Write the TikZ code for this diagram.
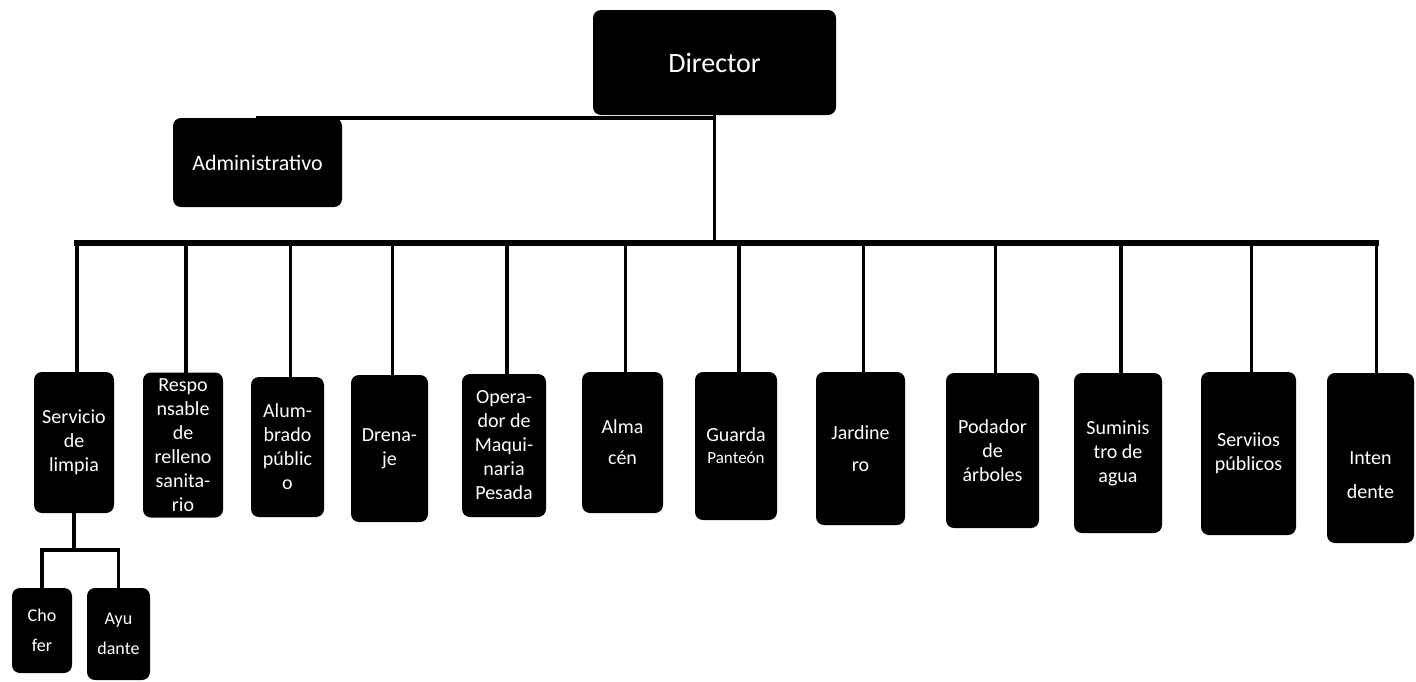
\documentclass[tikz,border=0pt]{standalone}
\usepackage{fontspec}
\setmainfont{Carlito}
\begin{document}
\begin{tikzpicture}[x=1pt,y=-1pt,
  orgbox/.style={fill=black, rounded corners=8pt, text=white, align=center,
    inner sep=0pt, font=\fontsize{20}{24}\selectfont},
  boxtext/.style={text=white, align=center, inner sep=0pt, font=\fontsize{20}{24}\selectfont},
  link/.style={line width=3.4pt, black, line cap=rect},
  busline/.style={line width=5.5pt, black, line cap=rect}]
\useasboundingbox (0,0) rectangle (1416,681);

% top level
\node[orgbox, minimum width=243pt, minimum height=105pt, font=\fontsize{28}{32}\selectfont] (dir) at (714.5,62.5) {Director};
\node[orgbox, minimum width=169pt, minimum height=89pt, font=\fontsize{22}{26}\selectfont] (adm) at (257.5,162.5) {Administrativo};

% second level
\node[orgbox, minimum width=80pt, minimum height=141pt] (serv) at (74,442.5) {Servicio\\de\\limpia};
\node[orgbox, minimum width=80pt, minimum height=145pt] (resp) at (183,445) {Respo\\nsable\\de\\relleno\\sanita-\\rio};
\node[orgbox, minimum width=73pt, minimum height=140pt] (alum) at (287.5,447) {Alum-\\brado\\públic\\o};
\node[orgbox, minimum width=77pt, minimum height=147pt] (dren) at (389.5,448.5) {Drena-\\je};
\node[orgbox, minimum width=84pt, minimum height=143pt] (oper) at (504,445.5) {Opera-\\dor de\\Maqui-\\naria\\Pesada};
\node[orgbox, minimum width=81pt, minimum height=141pt] (alma) at (622.5,442.5) {Alma\\[7pt]cén};
\node[orgbox, minimum width=82pt, minimum height=148pt] (guar) at (736,446) {Guarda\\[-2pt]{\fontsize{17}{20}\selectfont Panteón}};
\node[orgbox, minimum width=89pt, minimum height=153pt] (jard) at (860.5,448.5) {Jardine\\[8pt]ro};
\node[orgbox, minimum width=93pt, minimum height=155pt] (poda) at (992.5,450.5) {Podador\\de\\árboles};
\node[orgbox, minimum width=88pt, minimum height=160pt] (sumi) at (1118,453) {Suminis\\tro de\\agua};
\node[orgbox, minimum width=95pt, minimum height=163pt] (serp) at (1248.5,453.5) {Serviios\\públicos};
\node[orgbox, minimum width=87pt, minimum height=170pt] (inte) at (1370.5,458) {};
\node[boxtext] (intet) at ([yshift=-17pt]inte.center) {Inten\\[10pt]dente};

% third level
\node[orgbox, minimum width=60pt, minimum height=85pt, font=\fontsize{18}{22}\selectfont] (chof) at (42,630.5) {Cho\\[8pt]fer};
\node[orgbox, minimum width=63pt, minimum height=92pt, font=\fontsize{18}{22}\selectfont] (ayud) at (118.5,634) {Ayu\\[8pt]dante};

% connectors
\coordinate (bus) at (715,243);
\coordinate (sj) at (72,550);
\draw[link] (adm.north) -- (adm.north -| dir.south);
\draw[link] (dir.south) -- (dir.south |- bus);
\draw[busline] ([xshift=3pt]serv.north |- bus) -- ([xshift=6pt]inte.north |- bus);
\foreach \n in {serv,resp,alum,dren,oper,alma,guar,jard,poda,sumi,serp}
  \draw[link] ([xshift=3pt]\n.north |- bus) -- ([xshift=3pt]\n.north);
\draw[link] ([xshift=6pt]inte.north |- bus) -- ([xshift=6pt]inte.north);
\draw[link] (serv.south) -- (serv.south |- sj);
\draw[link] (chof.north) -- (chof.north |- sj) -- (ayud.north |- sj) -- (ayud.north);
\end{tikzpicture}
\end{document}
